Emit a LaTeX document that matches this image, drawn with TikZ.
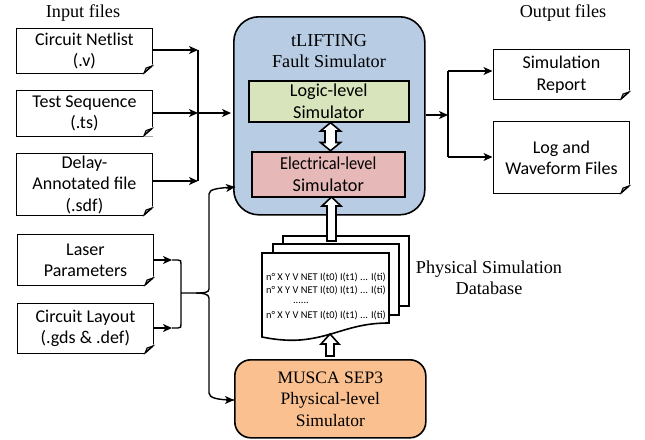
\documentclass[tikz,border=0pt]{standalone}
\usepackage{fontspec}
\usepackage{graphicx}
\setmainfont{Liberation Serif}
\newfontfamily\calib{Carlito}
\usetikzlibrary{arrows.meta}
\definecolor{bigblue}{HTML}{B8CCE4}
\definecolor{lgreen}{HTML}{D8E4BC}
\definecolor{lred}{HTML}{E6B9B8}
\definecolor{lorange}{HTML}{FAC090}
\tikzset{
  x=1pt,y=-1pt,
  line/.style={draw=black,line width=1.5pt},
  conn/.style={line width=1.4pt,-{Stealth[length=9pt,width=8pt,inset=2.5pt]}},
  bus/.style={line width=1.4pt},
  notebox/.style={draw=black,line width=1.4pt,fill=white,rectangle,inner sep=0pt,align=center,font=\calib\fontsize{18}{21.5}\selectfont},
  serifnote/.style={align=center,inner sep=0pt,font=\fontsize{18.2}{21.5}\selectfont},
  dataline/.style={inner sep=0pt,font=\calib\fontsize{10.4}{12}\selectfont},
  simbox/.style={draw=black,line width=1.6pt,rectangle,inner sep=0pt,align=center,font=\calib\fontsize{18.2}{22}\selectfont},
  bigbox/.style={draw=black,line width=1.6pt,rounded corners=25pt},
  fatarrow/.style={draw=black,line width=1.6pt,fill=white,line join=miter},
  sheet/.style={draw=black,line width=1.6pt,fill=white},
}
% name, x1, y1, x2, y2, text
\newcommand{\notefile}[6]{%
  \node[notebox,minimum width=#4pt-#2pt,minimum height=#5pt-#3pt,anchor=north west] (#1) at (#2,#3) {#6};
  \fill[white] (#4+1,#5-9) -- (#4+1,#5+1) -- (#4-9,#5+1) -- cycle;
  \draw[line width=1pt,fill=black!30] (#4,#5-7) -- (#4-6,#5-5) -- (#4-8,#5) -- cycle;
  \draw[line width=1.4pt] (#4,#5-7) -- (#4-8,#5);
}
\begin{document}
\begin{tikzpicture}
\useasboundingbox (0,0) rectangle (645,439);

% text headings
\node[serifnote] (inlab) at (83,13) {Input files};
\node[serifnote] (outlab) at (563,13) {Output files};
\node[serifnote] (dblab) at (489,278) {Physical Simulation\\[-1pt]Database};

% main simulators
\node[bigbox,fill=bigblue,minimum width=191pt,minimum height=198pt,anchor=north west] (tlift) at (233,16) {};
\node[serifnote] (tliftlab) at (329,51) {tLIFTING\\Fault Simulator};
\node[simbox,fill=lgreen,minimum width=160pt,minimum height=41pt,anchor=north west] (logic) at (248,80) {Logic-level\\Simulator};
\node[simbox,fill=lred,minimum width=153pt,minimum height=45pt,anchor=north west] (elec) at (251,151) {\scalebox{0.9}[1]{Electrical-level}\\Simulator};
\node[bigbox,rounded corners=16pt,fill=lorange,minimum width=191pt,minimum height=78pt,anchor=north west,align=center,font=\fontsize{17.5}{21.5}\selectfont] (musca) at (234,359) {MUSCA SEP3\\Physical-level\\Simulator};

% input and output files
\notefile{netlist}{15.5}{28}{152}{73}{Circuit Netlist\\(.v)}
\notefile{testseq}{15.5}{90}{152}{135.5}{Test Sequence\\(.ts)}
\notefile{delay}{15.5}{153}{152}{215}{Delay-\\Annotated file\\(.sdf)}
\notefile{laser}{16.5}{234}{153}{285}{Laser\\Parameters}
\notefile{layout}{16.5}{302.5}{153}{353}{Circuit Layout\\(.gds \& .def)}
\notefile{report}{492.5}{48.5}{629}{99}{Simulation\\Report}
\notefile{logf}{492.5}{121}{629}{193}{Log and\\Waveform Files}

% stack of sheets
\draw[sheet] (283,244) -- (283,236) -- (409,236) -- (409,306) -- (399,306);
\draw[sheet] (273,253) -- (273,244) -- (399,244) -- (399,315) -- (389,315);
\draw[sheet] (262,253) -- (389,253) -- (389,323)
  .. controls (350,323) and (335,337) .. (300,340)
  .. controls (285,341) and (272,339) .. (262,337) -- cycle;
\node[dataline] (d1) at (326,277) {n° X Y V NET I(t0) I(t1) ... I(ti)};
\node[dataline] (d2) at (326,290) {n° X Y V NET I(t0) I(t1) ... I(ti)};
\node[dataline] (d3) at (301,303) {......};
\node[dataline] (d4) at (326,315) {n° X Y V NET I(t0) I(t1) ... I(ti)};
\coordinate (stack) at (330,334);

% fat arrows
\draw[fatarrow] (330.5,122.7) -- (340.5,131) -- (336,131) -- (336,142.5) -- (340.5,142.5) -- (330.5,150.7)
  -- (320.5,142.5) -- (325,142.5) -- (325,131) -- (320.5,131) -- cycle;
\draw[fatarrow] (331.5,197) -- (341,206) -- (336,206) -- (336,241) -- (327,241) -- (327,206) -- (322,206) -- cycle;
\draw[fatarrow] (stack) -- (339,344) -- (334,344) -- (334,356) -- (326,356) -- (326,344) -- (321,344) -- cycle;

% input bus
\coordinate (busA) at (198,50);
\coordinate (busB) at (198,113);
\coordinate (busC) at (198,181);
\coordinate (tliftB) at (231,113);
\draw[conn] (netlist.east |- busA) -- (busA);
\draw[conn] (testseq.east |- busB) -- (busB);
\draw[conn] (delay.east |- busC) -- (busC);
\draw[bus] (busA) -- (busC);
\draw[conn] (busB) -- (tliftB);

% layer bus
\coordinate (lasA) at (172,260);
\coordinate (layA) at (172,328);
\coordinate (hub) at (196,293);
\coordinate (tliftIn) at (235,187);
\coordinate (muscaIn) at (234,400);
\draw[conn] (laser.east |- lasA) -- (lasA);
\draw[conn] (layout.east |- layA) -- (layA);
\draw[bus] (lasA) -- (178,260) .. controls (181,260) and (181,261) .. (181,264) -- (181,324)
  .. controls (181,327) and (181,328) .. (178,328) -- (layA);
\draw[bus] (181,293) -- (hub) .. controls (203,293) and (209,293) .. (209,289) -- (209,194)
  .. controls (209,189) and (218,188) .. (tliftIn);
\draw[conn] (226,188) -- (tliftIn);
\draw[bus] (hub) .. controls (203,293) and (209,294) .. (209,298) -- (209,393)
  .. controls (209,398) and (218,400) .. (muscaIn);
\draw[conn] (226,400) -- (muscaIn);

% output bus
\coordinate (outmid) at (448,115);
\coordinate (outA) at (448,71);
\coordinate (outB) at (448,157);
\draw[conn] (tlift.east |- outmid) -- (outmid);
\draw[bus] (outA) -- (outB);
\draw[conn] (outA) -- (report.west |- outA);
\draw[conn] (outB) -- (logf.west |- outB);
\end{tikzpicture}
\end{document}
